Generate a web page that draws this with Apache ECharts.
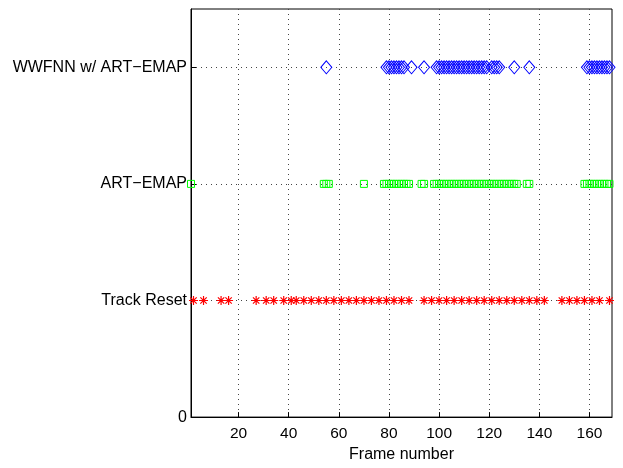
<!DOCTYPE html>
<html>
<head>
<meta charset="utf-8">
<script src="https://cdn.jsdelivr.net/npm/echarts@6/dist/echarts.min.js"></script>
<style>
  html, body { margin: 0; padding: 0; background: #fff; }
  #chart { width: 623px; height: 468px; }
</style>
</head>
<body>
<div id="chart"></div>
<script>
// Row labels on the y axis (row index -> label)
const rowLabels = ['0', 'Track Reset', 'ART\u2212EMAP', 'WWFNN w/ ART\u2212EMAP'];
const xTicks = [20, 40, 60, 80, 100, 120, 140, 160];
const yTicks = [0, 1, 2, 3];

// Frames at which each event occurs
const trackResetFrames = [2, 6, 13, 16, 27, 31, 34, 38, 41, 43, 46, 49, 52, 55, 58, 61, 64, 67, 70, 73,
  76, 79, 82, 85, 88, 94, 97, 100, 103, 106, 109, 112, 115, 118, 121, 124, 127, 130, 133, 136,
  139, 142, 149, 152, 155, 158, 161, 164, 168];
const artEmapFrames = [1, 54, 55, 56, 70, 78, 79, 80, 81, 82, 83, 84, 85, 86, 87, 88, 93, 94,
  98, 99, 100, 101, 102, 103, 104, 105, 106, 107, 108, 109, 110, 111, 112, 113, 114, 115,
  116, 117, 118, 119, 120, 121, 122, 123, 124, 125, 126, 127, 128, 129, 130, 131, 135, 136,
  158, 159, 160, 161, 162, 163, 164, 165, 166, 167, 168];
const wwfnnFrames = [55, 79, 80, 81, 82, 83, 84, 85, 86, 89, 94, 99, 100, 101, 102, 103, 104,
  105, 106, 107, 108, 109, 110, 111, 112, 113, 114, 115, 116, 117, 118, 119, 121, 122, 123,
  124, 130, 136, 159, 160, 161, 162, 163, 164, 165, 166, 167, 168];

const toPoints = (frames, row) => frames.map(f => [f, row]);

const FONT = '"Liberation Sans", Arial, Helvetica, sans-serif';
const gridLine = { show: true, lineStyle: { color: '#444', width: 1, type: [1, 4] } };
const asterisk = 'path://M0,-10L0,10M-10,0L10,0M-7.07,-7.07L7.07,7.07M-7.07,7.07L7.07,-7.07';

const chart = echarts.init(document.getElementById('chart'), null, { renderer: 'canvas' });
chart.setOption({
  animation: false,
  backgroundColor: '#fff',
  grid: {
    left: 191, right: 11, top: 9, bottom: 49,
    show: true, borderColor: '#000', borderWidth: 1, backgroundColor: 'transparent'
  },
  xAxis: {
    type: 'value',
    min: 1,
    max: 169,
    name: 'Frame number',
    nameLocation: 'middle',
    nameGap: 24,
    nameTextStyle: { color: '#000', fontSize: 16, fontFamily: FONT },
    axisLine: { show: true, lineStyle: { color: '#000', width: 1 } },
    axisTick: { show: true, inside: true, length: 5, customValues: xTicks, lineStyle: { color: '#000' } },
    axisLabel: { show: true, customValues: xTicks, color: '#000', fontSize: 15.5, fontFamily: FONT, margin: 9 },
    splitLine: gridLine
  },
  yAxis: {
    type: 'value',
    min: 0,
    max: 3.5,
    axisLine: { show: true, lineStyle: { color: '#000', width: 1 } },
    axisTick: { show: true, inside: true, length: 5, customValues: yTicks, lineStyle: { color: '#000' } },
    axisLabel: {
      show: true, customValues: yTicks, color: '#000', fontSize: 16, fontFamily: FONT, margin: 4,
      formatter: v => rowLabels[Math.round(v)] || ''
    },
    splitLine: gridLine
  },
  series: [
    {
      name: 'Track Reset',
      type: 'scatter',
      data: toPoints(trackResetFrames, 1),
      symbol: asterisk,
      symbolSize: 9,
      clip: false,
      itemStyle: { color: 'transparent', borderColor: '#ff0000', borderWidth: 1.2, opacity: 1 }
    },
    {
      name: 'ART\u2212EMAP',
      type: 'scatter',
      data: toPoints(artEmapFrames, 2),
      symbol: 'rect',
      symbolSize: 7,
      clip: false,
      itemStyle: { color: 'transparent', borderColor: '#00ff00', borderWidth: 1, opacity: 1 }
    },
    {
      name: 'WWFNN w/ ART\u2212EMAP',
      type: 'scatter',
      data: toPoints(wwfnnFrames, 3),
      symbol: 'diamond',
      symbolSize: [11, 13],
      clip: false,
      itemStyle: { color: 'transparent', borderColor: '#0000ff', borderWidth: 1, opacity: 1 }
    }
  ]
});
</script>
</body>
</html>
